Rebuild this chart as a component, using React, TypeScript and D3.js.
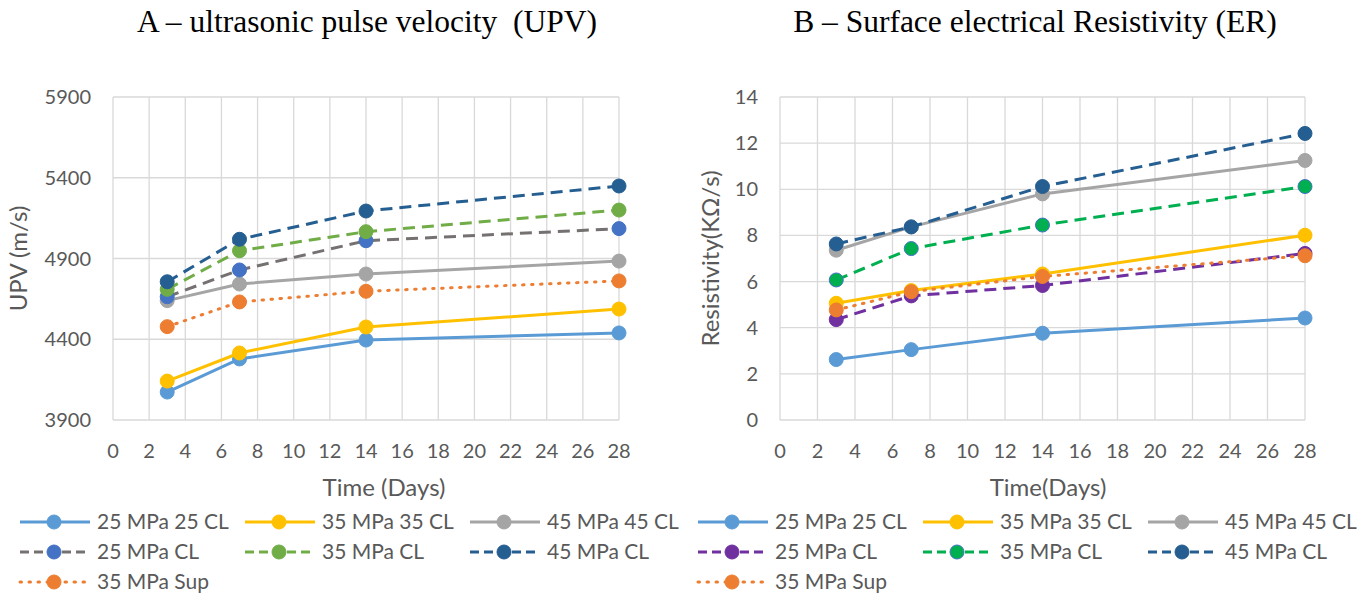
import React from "react";
import * as d3 from "d3";

const days = [3, 7, 14, 28];
const xTicks = [0, 2, 4, 6, 8, 10, 12, 14, 16, 18, 20, 22, 24, 26, 28];
const upvTicks = [3900, 4400, 4900, 5400, 5900];
const erTicks = [0, 2, 4, 6, 8, 10, 12, 14];

const seriesNames = [
  "25 MPa 25 CL",
  "35 MPa 35 CL",
  "45 MPa 45 CL",
  "25 MPa CL",
  "35 MPa CL",
  "45 MPa CL",
  "35 MPa Sup",
];

// UPV (m/s)
const upv25_25CL = [4073, 4278, 4395, 4439];
const upv35_35CL = [4141, 4315, 4476, 4587];
const upv45_45CL = [4639, 4742, 4804, 4884];
const upv25CL = [4663, 4829, 5010, 5085];
const upv35CL = [4709, 4948, 5066, 5200];
const upv45CL = [4756, 5019, 5194, 5349];
const upv35Sup = [4478, 4631, 4697, 4761];

// Resistivity (KΩ/s)
const er25_25CL = [2.62, 3.05, 3.76, 4.42];
const er35_35CL = [5.06, 5.61, 6.33, 8.01];
const er45_45CL = [7.36, 8.37, 9.8, 11.25];
const er25CL = [4.35, 5.38, 5.83, 7.22];
const er35CL = [6.07, 7.43, 8.45, 10.12];
const er45CL = [7.63, 8.37, 10.12, 12.42];
const er35Sup = [4.77, 5.56, 6.22, 7.12];

type Style = { line: string; fill: string; stroke: string; dash: string };
const SOLID = "";
const DASH = "12,7";
const DOT = "1.5,7.5";

const upvStyles: Style[] = [
  { line: "#5B9BD5", fill: "#5B9BD5", stroke: "#5B9BD5", dash: SOLID },
  { line: "#FFC000", fill: "#FFC000", stroke: "#FFC000", dash: SOLID },
  { line: "#A5A5A5", fill: "#A5A5A5", stroke: "#A5A5A5", dash: SOLID },
  { line: "#767171", fill: "#4472C4", stroke: "#4472C4", dash: DASH },
  { line: "#70AD47", fill: "#70AD47", stroke: "#70AD47", dash: DASH },
  { line: "#255E91", fill: "#255E91", stroke: "#255E91", dash: DASH },
  { line: "#ED7D31", fill: "#ED7D31", stroke: "#ED7D31", dash: DOT },
];
const erStyles: Style[] = [
  { line: "#5B9BD5", fill: "#5B9BD5", stroke: "#5B9BD5", dash: SOLID },
  { line: "#FFC000", fill: "#FFC000", stroke: "#FFC000", dash: SOLID },
  { line: "#A5A5A5", fill: "#A5A5A5", stroke: "#A5A5A5", dash: SOLID },
  { line: "#7030A0", fill: "#7030A0", stroke: "#7030A0", dash: DASH },
  { line: "#00B050", fill: "#00B050", stroke: "#4472C4", dash: DASH },
  { line: "#255E91", fill: "#255E91", stroke: "#255E91", dash: DASH },
  { line: "#ED7D31", fill: "#ED7D31", stroke: "#ED7D31", dash: DOT },
];

const upvData = [upv25_25CL, upv35_35CL, upv45_45CL, upv25CL, upv35CL, upv45CL, upv35Sup];
const erData = [er25_25CL, er35_35CL, er45_45CL, er25CL, er35CL, er45CL, er35Sup];

const FONT = "Lato, 'Open Sans', sans-serif";
const GRID = "#D9D9D9";
const TXT = "#595959";

type PanelProps = {
  title: string;
  yLabel: string;
  xLabel: string;
  left: number;
  right: number;
  yTicks: number[];
  yDomain: [number, number];
  data: number[][];
  styles: Style[];
  titleX: number;
  yLabelX: number;
  xLabelX: number;
  legendX: number;
};

function Panel(p: PanelProps) {
  const top = 97;
  const bottom = 420;
  const x = d3.scaleLinear().domain([0, 28]).range([p.left, p.right]);
  const y = d3.scaleLinear().domain(p.yDomain).range([bottom, top]);
  const line = d3
    .line<number>()
    .x((_, i) => x(days[i]))
    .y((v) => y(v));

  const legendRows = [
    [0, 1, 2],
    [3, 4, 5],
    [6],
  ];

  return (
    <g>
      <text
        x={p.titleX}
        y={32}
        textAnchor="middle"
        fontFamily="'Liberation Serif', 'Times New Roman', serif"
        fontSize={31.5}
        fill="#000"
        style={{ whiteSpace: "pre" }}
      >
        {p.title}
      </text>
      {/* grid */}
      {xTicks.map((t) => (
        <line key={"vx" + t} x1={x(t)} x2={x(t)} y1={top} y2={bottom} stroke={GRID} strokeWidth={1.3} />
      ))}
      {p.yTicks.map((t) => (
        <line key={"hy" + t} x1={p.left} x2={p.right} y1={y(t)} y2={y(t)} stroke={GRID} strokeWidth={1.3} />
      ))}
      {/* tick labels */}
      {p.yTicks.map((t) => (
        <text
          key={"ty" + t}
          x={p.left - 22}
          y={y(t)}
          dy="0.35em"
          textAnchor="end"
          fontFamily={FONT}
          fontSize={20}
          fill={TXT}
        >
          {t}
        </text>
      ))}
      {xTicks.map((t) => (
        <text
          key={"tx" + t}
          x={x(t)}
          y={bottom + 38}
          textAnchor="middle"
          fontFamily={FONT}
          fontSize={20}
          fill={TXT}
        >
          {t}
        </text>
      ))}
      <text
        x={p.xLabelX}
        y={496}
        textAnchor="middle"
        fontFamily={FONT}
        fontSize={24}
        fill={TXT}
      >
        {p.xLabel}
      </text>
      <text
        transform={`translate(${p.yLabelX},${(top + bottom) / 2}) rotate(-90)`}
        textAnchor="middle"
        fontFamily={FONT}
        fontSize={24}
        fill={TXT}
      >
        {p.yLabel}
      </text>
      {/* series */}
      {p.data.map((vals, si) => (
        <g key={"s" + si}>
          <path
            d={line(vals) || ""}
            fill="none"
            stroke={p.styles[si].line}
            strokeWidth={3}
            strokeDasharray={p.styles[si].dash || undefined}
            strokeLinecap={p.styles[si].dash === DOT ? "round" : "butt"}
            strokeLinejoin="round"
          />
          {vals.map((v, i) => (
            <circle
              key={i}
              cx={x(days[i])}
              cy={y(v)}
              r={7}
              fill={p.styles[si].fill}
              stroke={p.styles[si].stroke}
              strokeWidth={1}
            />
          ))}
        </g>
      ))}
      {/* legend */}
      {legendRows.map((row, ri) =>
        row.map((si, ci) => {
          const lx = p.legendX + ci * 225;
          const ly = 522 + ri * 30;
          const st = p.styles[si];
          return (
            <g key={"lg" + si}>
              <line
                x1={lx}
                x2={lx + 70}
                y1={ly}
                y2={ly}
                stroke={st.line}
                strokeWidth={3}
                strokeDasharray={st.dash === DASH ? "9,5" : st.dash || undefined}
                strokeLinecap={st.dash === DOT ? "round" : "butt"}
              />
              <circle cx={lx + 34} cy={ly} r={7} fill={st.fill} stroke={st.stroke} strokeWidth={1} />
              <text
                x={lx + 77}
                y={ly}
                dy="0.35em"
                fontFamily={FONT}
                fontSize={21}
                fill={TXT}
              >
                {seriesNames[si]}
              </text>
            </g>
          );
        })
      )}
    </g>
  );
}

export default function App() {
  return (
    <svg
      width={1369}
      height={600}
      style={{ position: "absolute", left: 0, top: 0, background: "#fff" }}
    >
      <rect x={0} y={0} width={1369} height={600} fill="#fff" />
      <Panel
        title="A – ultrasonic pulse velocity  (UPV)"
        yLabel="UPV (m/s)"
        xLabel="Time (Days)"
        left={113}
        right={619}
        yTicks={upvTicks}
        yDomain={[3900, 5900]}
        data={upvData}
        styles={upvStyles}
        titleX={367}
        yLabelX={27}
        xLabelX={384}
        legendX={20}
      />
      <Panel
        title="B – Surface electrical Resistivity (ER)"
        yLabel="Resistivity(KΩ/s)"
        xLabel="Time(Days)"
        left={780}
        right={1305}
        yTicks={erTicks}
        yDomain={[0, 14]}
        data={erData}
        styles={erStyles}
        titleX={1035}
        yLabelX={719}
        xLabelX={1048}
        legendX={698}
      />
    </svg>
  );
}
